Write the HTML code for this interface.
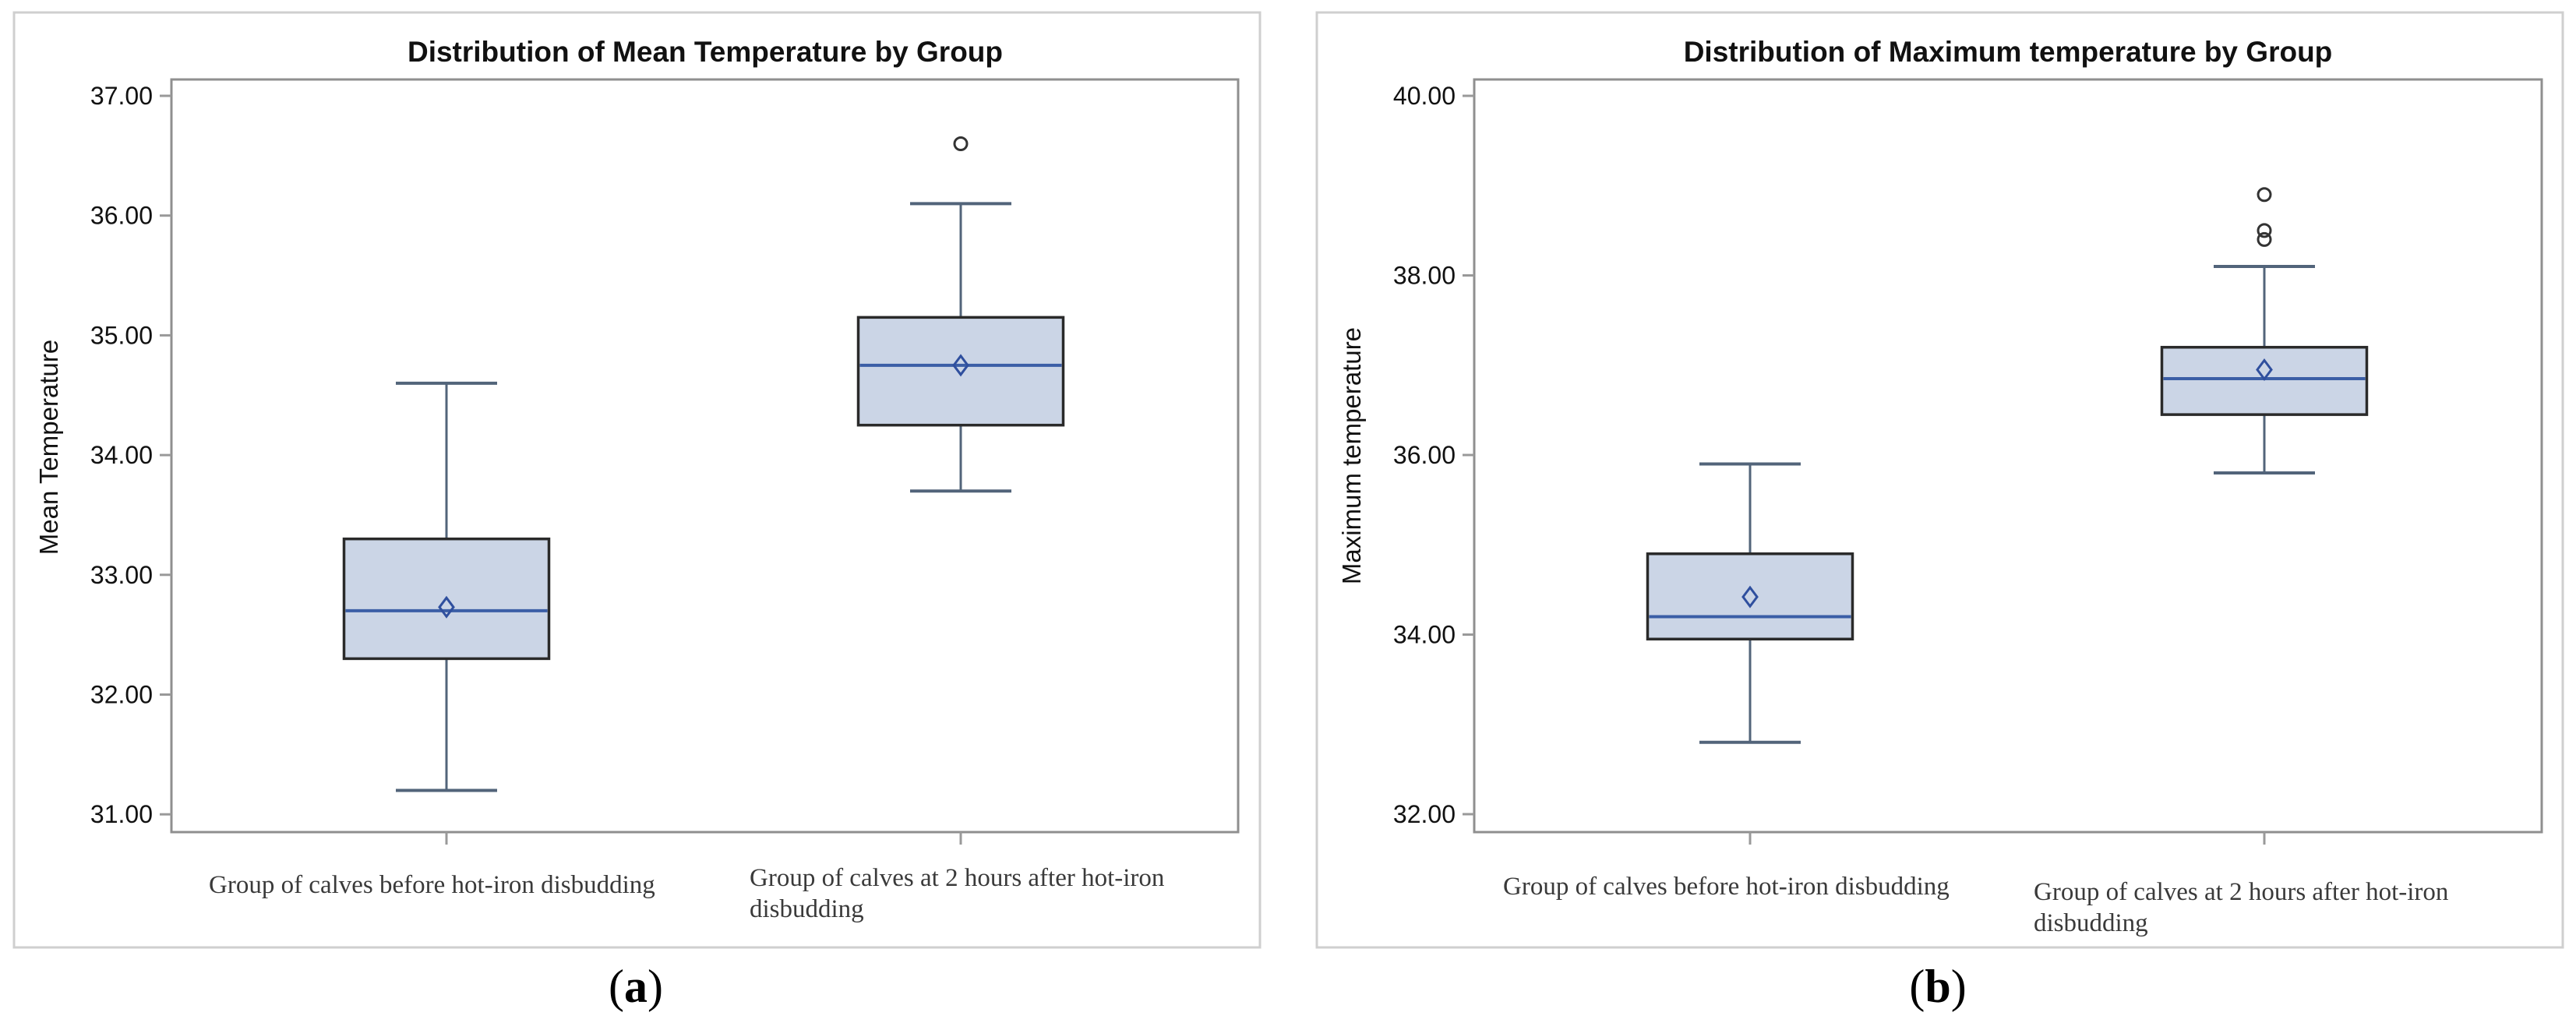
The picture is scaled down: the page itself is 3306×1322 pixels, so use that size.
<!DOCTYPE html>
<html><head><meta charset="utf-8"><style>
html,body{margin:0;padding:0;background:#fff;}
svg{display:block;}
</style></head><body>
<svg id="chart" width="3306" height="1322" xmlns="http://www.w3.org/2000/svg">
<rect x="0" y="0" width="3306" height="1322" fill="#fff"/>
<g id="panelA"></g>
<g id="panelB"></g>
</svg>
<script>
// ---- Data: panel (a) Mean Temperature ----
const categoriesA = ["Group of calves before hot-iron disbudding", "Group of calves at 2 hours after hot-iron disbudding"];
const whiskerLowA = [31.2, 33.7];
const q1A = [32.3, 34.25];
const medianA = [32.7, 34.75];
const q3A = [33.3, 35.15];
const whiskerHighA = [34.6, 36.1];
const meanA = [32.73, 34.75];
const outliersA = [[], [36.6]];
const ticksA = [31, 32, 33, 34, 35, 36, 37];

// ---- Data: panel (b) Maximum temperature ----
const categoriesB = ["Group of calves before hot-iron disbudding", "Group of calves at 2 hours after hot-iron disbudding"];
const whiskerLowB = [32.8, 35.8];
const q1B = [33.95, 36.45];
const medianB = [34.2, 36.85];
const q3B = [34.9, 37.2];
const whiskerHighB = [35.9, 38.1];
const meanB = [34.42, 36.95];
const outliersB = [[], [38.9, 38.5, 38.4]];
const ticksB = [32, 34, 36, 38, 40];

const NS = "http://www.w3.org/2000/svg";
function mk(parent, tag, attrs, text) {
  const e = document.createElementNS(NS, tag);
  for (const k in attrs) e.setAttribute(k, attrs[k]);
  if (text !== undefined) e.textContent = text;
  parent.appendChild(e);
  return e;
}

function drawPanel(g, cfg, d) {
  const frame = mk(g, "rect", {x: cfg.fx, y: 16, width: cfg.fw, height: 1200, fill: "#fff", stroke: "#cfcfcf", "stroke-width": 3});
  
  
  const L = cfg.px0, R = cfg.px1, T = 102, B = 1068;
  const y = v => cfg.yTop + (cfg.yMax - v) * cfg.ppu;
  const title = mk(g, "text", {x: cfg.titleX, y: 79, "text-anchor": "middle", "font-family": "Liberation Sans, sans-serif", "font-weight": "bold", "font-size": 37, fill: "#111"}, cfg.title);
  
  
  const pa = mk(g, "rect", {x: L, y: T, width: R - L, height: B - T, fill: "#fff", stroke: "#8f8f8f", "stroke-width": 3});
  
  
  d.ticks.forEach(t => {
    const ty = y(t);
    const tl = mk(g, "line", {x1: L - 15, x2: L, y1: ty, y2: ty, stroke: "#999", "stroke-width": 3});
    
    
    const tx = mk(g, "text", {x: L - 24, y: ty + 11, "text-anchor": "end", "font-family": "Liberation Sans, sans-serif", "font-size": 32, fill: "#111"}, t.toFixed(2));
    
    
  });
  const ym = cfg.yTitleY;
  const yt = mk(g, "text", {x: cfg.yTitleX, y: ym, "text-anchor": "middle", transform: `rotate(-90 ${cfg.yTitleX} ${ym})`, "font-family": "Liberation Sans, sans-serif", "font-size": 33, fill: "#111"}, cfg.yTitle);
  
  
  d.categories.forEach((c, i) => {
    const cx = cfg.cx[i], bw = 263, cw = 130;
    const bg = mk(g, "g", {});
    
    
    const xt = mk(g, "line", {x1: cx, x2: cx, y1: B, y2: B + 16, stroke: "#999", "stroke-width": 3});
    
    
    const w1 = mk(bg, "line", {x1: cx, x2: cx, y1: y(d.wh[i]), y2: y(d.q3[i]), stroke: "#52647a", "stroke-width": 3});
    
    
    const w2 = mk(bg, "line", {x1: cx, x2: cx, y1: y(d.q1[i]), y2: y(d.wl[i]), stroke: "#52647a", "stroke-width": 3});
    
    
    const c1 = mk(bg, "line", {x1: cx - cw / 2, x2: cx + cw / 2, y1: y(d.wh[i]), y2: y(d.wh[i]), stroke: "#52647a", "stroke-width": 4});
    
    
    const c2 = mk(bg, "line", {x1: cx - cw / 2, x2: cx + cw / 2, y1: y(d.wl[i]), y2: y(d.wl[i]), stroke: "#52647a", "stroke-width": 4});
    
    
    const bx = mk(bg, "rect", {x: cx - bw / 2, y: y(d.q3[i]), width: bw, height: y(d.q1[i]) - y(d.q3[i]), fill: "#cbd5e6", stroke: "#2a2a2a", "stroke-width": 3.5});
    
    
    const md = mk(bg, "line", {x1: cx - bw / 2 + 2, x2: cx + bw / 2 - 2, y1: y(d.med[i]), y2: y(d.med[i]), stroke: "#3b5ea6", "stroke-width": 4});
    
    
    const my = y(d.mean[i]);
    const mn = mk(bg, "polygon", {points: `${cx},${my - 12} ${cx + 9},${my} ${cx},${my + 12} ${cx - 9},${my}`, fill: "none", stroke: "#2f4f9e", "stroke-width": 3});
    
    
    d.out[i].forEach(o => {
      const oc = mk(bg, "circle", {cx: cx, cy: y(o), r: 8, fill: "none", stroke: "#333", "stroke-width": 3});
      
      
    });
    const lab = cfg.labels[i];
    const tx = mk(g, "text", {x: lab.x, y: lab.y, "font-family": "Liberation Serif, serif", "font-size": 33, fill: "#3a3a3a"});
    
    
    lab.lines.forEach((ln, k) => {
      mk(tx, "tspan", {x: lab.x, dy: k === 0 ? 0 : 40}, ln);
    });
  });
  const cap = mk(g, "text", {x: cfg.capX, y: 1286, "text-anchor": "middle", "font-family": "Liberation Serif, serif", "font-size": 60, fill: "#000"});
  
  
  mk(cap, "tspan", {}, "(");
  mk(cap, "tspan", {"font-weight": "bold"}, cfg.capLetter);
  mk(cap, "tspan", {}, ")");
}

drawPanel(document.getElementById("panelA"), {
  fx: 18, fw: 1599, px0: 220, px1: 1589, yTop: 123, yMax: 37, ppu: 153.7,
  title: "Distribution of Mean Temperature by Group", titleX: 905,
  yTitle: "Mean Temperature", yTitleX: 74, yTitleY: 574,
  cx: [573, 1233],
  labels: [{x: 268, y: 1146, lines: ["Group of calves before hot-iron disbudding"]},
           {x: 962, y: 1137, lines: ["Group of calves at 2 hours after hot-iron", "disbudding"]}],
  capX: 816, capLetter: "a"
}, {categories: categoriesA, wl: whiskerLowA, q1: q1A, med: medianA, q3: q3A, wh: whiskerHighA, mean: meanA, out: outliersA, ticks: ticksA});

drawPanel(document.getElementById("panelB"), {
  fx: 1690, fw: 1599, px0: 1892, px1: 3262, yTop: 123, yMax: 40, ppu: 115.25,
  title: "Distribution of Maximum temperature by Group", titleX: 2577,
  yTitle: "Maximum temperature", yTitleX: 1746, yTitleY: 585,
  cx: [2246, 2906],
  labels: [{x: 1929, y: 1148, lines: ["Group of calves before hot-iron disbudding"]},
           {x: 2610, y: 1155, lines: ["Group of calves at 2 hours after hot-iron", "disbudding"]}],
  capX: 2487, capLetter: "b"
}, {categories: categoriesB, wl: whiskerLowB, q1: q1B, med: medianB, q3: q3B, wh: whiskerHighB, mean: meanB, out: outliersB, ticks: ticksB});
</script>
</body></html>
